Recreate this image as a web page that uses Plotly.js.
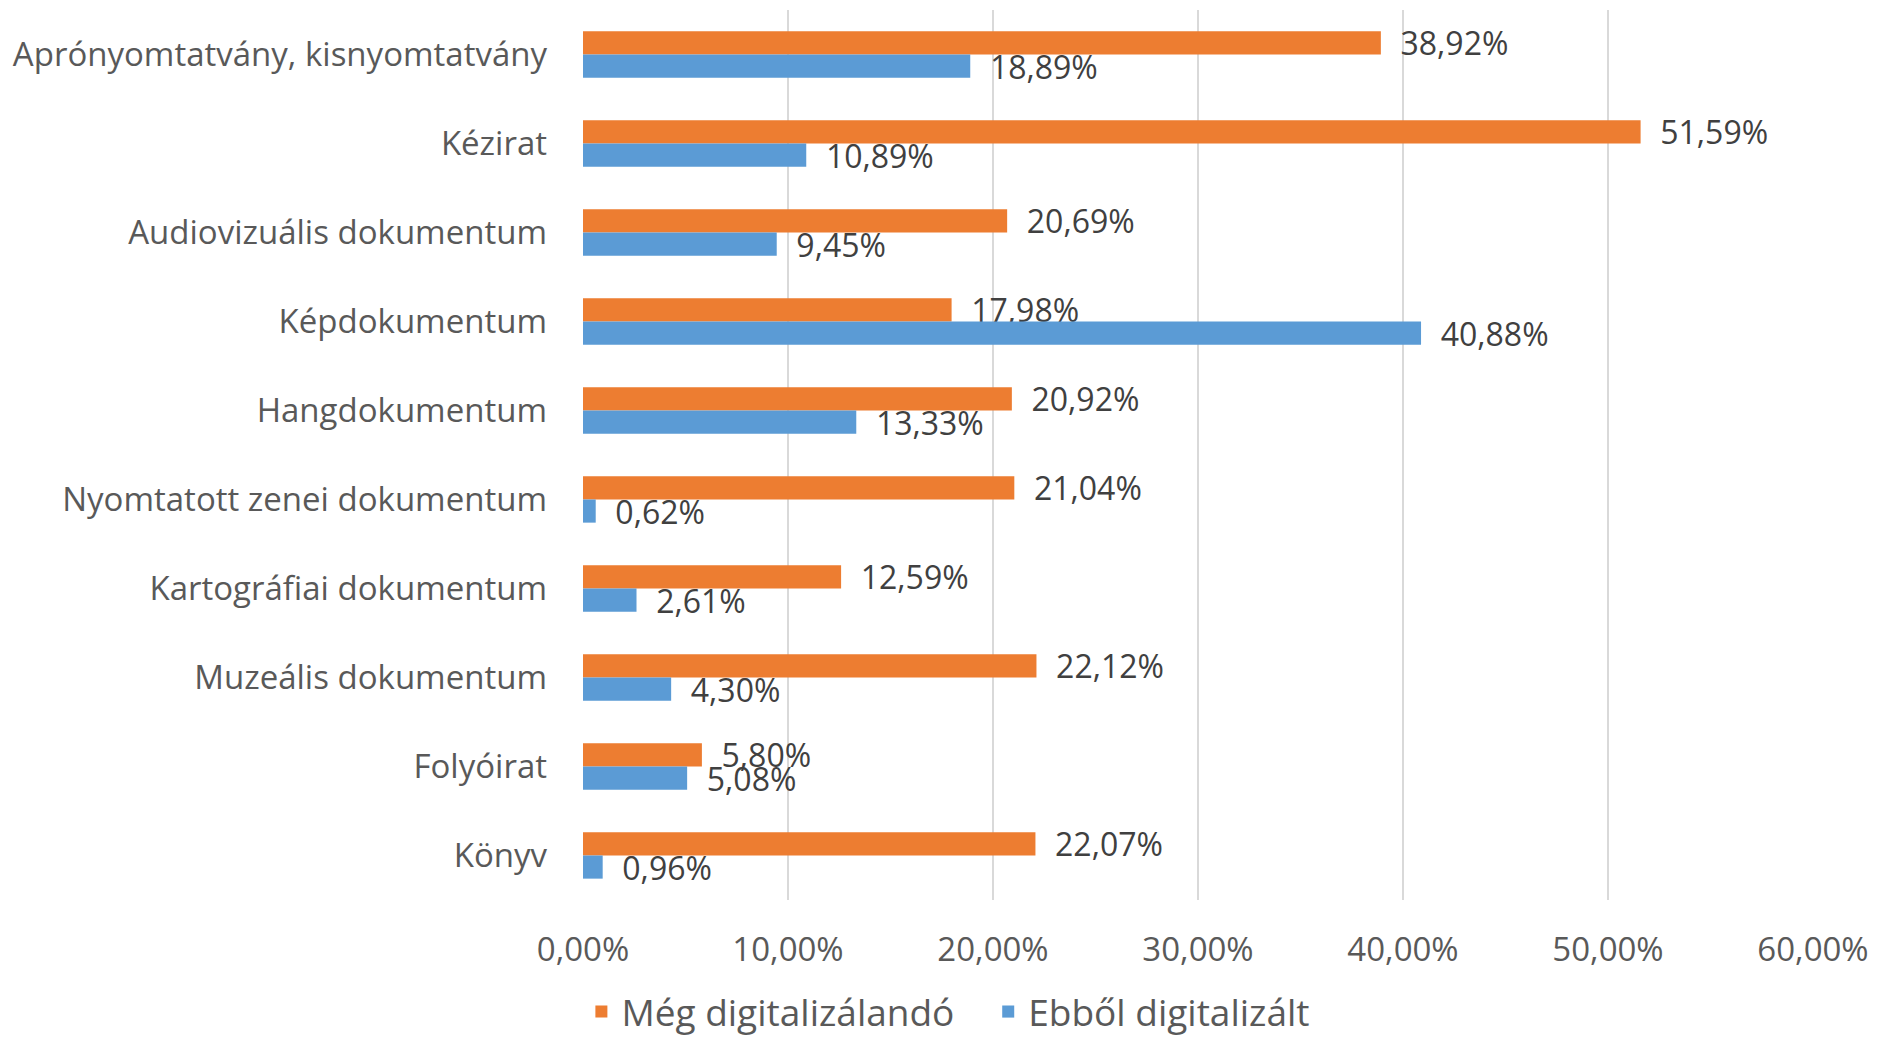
<!DOCTYPE html>
<html>
<head>
<meta charset="utf-8">
<script src="https://cdn.plot.ly/plotly-3.0.1.min.js"></script>
<style>html,body{margin:0;padding:0;background:#fff;}#chart{width:1878px;height:1038px;}</style>
</head>
<body>
<div id="chart"></div>
<script>
// Categories, top to bottom
const categories = [
  "Aprónyomtatvány, kisnyomtatvány",
  "Kézirat",
  "Audiovizuális dokumentum",
  "Képdokumentum",
  "Hangdokumentum",
  "Nyomtatott zenei dokumentum",
  "Kartográfiai dokumentum",
  "Muzeális dokumentum",
  "Folyóirat",
  "Könyv"
];
const megDigitalizalando = [0.3892, 0.5159, 0.2069, 0.1798, 0.2092, 0.2104, 0.1259, 0.2212, 0.0580, 0.2207];
const ebbolDigitalizalt  = [0.1889, 0.1089, 0.0945, 0.4088, 0.1333, 0.0062, 0.0261, 0.0430, 0.0508, 0.0096];
const seriesNames = ["Még digitalizálandó", "Ebből digitalizált"];
const xTicks = [0, 0.1, 0.2, 0.3, 0.4, 0.5, 0.6];

const FONT = "Open Sans, sans-serif";
const labelFont = {family: FONT, size: 32, color: "#404040"};

const traces = [
  {
    type: "bar", orientation: "h", name: seriesNames[0] + "\u00a0\u00a0\u00a0",
    y: categories, x: megDigitalizalando,
    marker: {color: "#ED7D31"},
    texttemplate: "\u00a0\u00a0%{x:.2%}", textposition: "outside",
    textfont: labelFont, constraintext: "none", cliponaxis: false,
    hoverinfo: "none"
  },
  {
    type: "bar", orientation: "h", name: seriesNames[1],
    y: categories, x: ebbolDigitalizalt,
    marker: {color: "#5B9BD5"},
    texttemplate: "\u00a0\u00a0%{x:.2%}", textposition: "outside",
    textfont: labelFont, constraintext: "none", cliponaxis: false,
    hoverinfo: "none"
  }
];

const layout = {
  width: 1878, height: 1038,
  margin: {l: 583, r: 65, t: 10, b: 138},
  paper_bgcolor: "#ffffff", plot_bgcolor: "#ffffff",
  separators: ", ",
  barmode: "group",
  bargap: 0.48, bargroupgap: 0,
  showlegend: true,
  font: {family: FONT, color: "#595959"},
  xaxis: {
    range: [0, 0.6], tickvals: xTicks, tickformat: ".2%",
    showgrid: true, gridcolor: "#d9d9d9", gridwidth: 2,
    zeroline: false, showline: false, ticks: "",
    ticklabelstandoff: 27,
    tickfont: {family: FONT, size: 33, color: "#595959"}
  },
  yaxis: {
    type: "category", autorange: "reversed",
    showgrid: false, zeroline: false, showline: false, ticks: "",
    ticklabelstandoff: 35,
    tickfont: {family: FONT, size: 33, color: "#595959"}
  },
  legend: {
    orientation: "h", xref: "container", yref: "container",
    x: 0.505, xanchor: "center", y: 0.025, yanchor: "middle",
    font: {family: FONT, size: 37, color: "#595959"},
    itemwidth: 30
  }
};

Plotly.newPlot("chart", traces, layout, {displayModeBar: false, staticPlot: true});
</script>
</body>
</html>
